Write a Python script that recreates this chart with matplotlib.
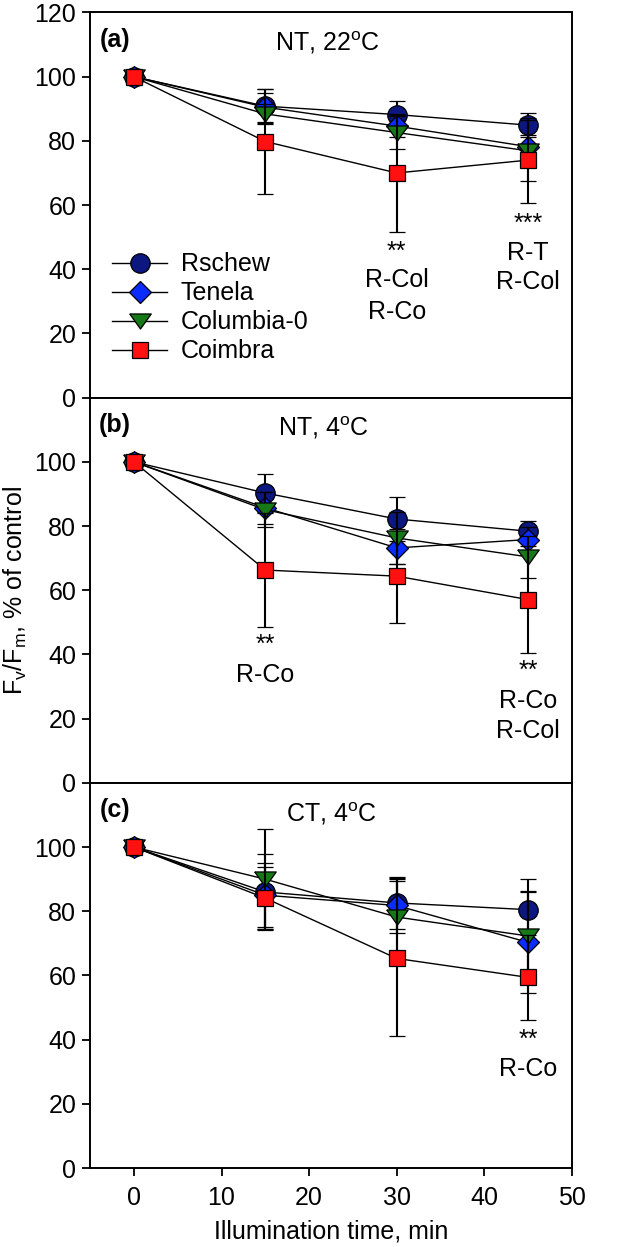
import matplotlib
matplotlib.use("Agg")
import matplotlib.pyplot as plt
import numpy as np

plt.rcParams['font.family'] = ['Liberation Sans', 'DejaVu Sans']
plt.rcParams['mathtext.fontset'] = 'custom'
plt.rcParams['mathtext.rm'] = 'Liberation Sans'
plt.rcParams['mathtext.it'] = 'Liberation Sans:italic'

time = [0, 15, 30, 45]
series_names = ["Rschew", "Tenela", "Columbia-0", "Coimbra"]

# Panel (a) NT, 22oC
a_rschew = [100, 90.8, 88.2, 84.9]
a_rschew_err = [0, 5.3, 4.2, 3.8]
a_tenela = [100, 90.5, 84.6, 78.2]
a_tenela_err = [0, 4.5, 3.5, 3.5]
a_columbia = [100, 88.4, 82.6, 76.9]
a_columbia_err = [0, 3.0, 5.2, 9.5]
a_coimbra = [100, 79.8, 70.0, 74.0]
a_coimbra_err = [0, 16.3, 18.3, 13.2]

# Panel (b) NT, 4oC
b_rschew = [100, 90.3, 82.2, 78.4]
b_rschew_err = [0, 5.8, 6.8, 3.1]
b_tenela = [100, 85.7, 73.2, 75.8]
b_tenela_err = [0, 5.0, 5.0, 4.0]
b_columbia = [100, 85.1, 76.3, 70.4]
b_columbia_err = [0, 5.5, 8.0, 6.5]
b_coimbra = [100, 66.3, 64.4, 57.1]
b_coimbra_err = [0, 17.7, 14.6, 16.6]

# Panel (c) CT, 4oC
c_rschew = [100, 86.0, 82.6, 80.5]
c_rschew_err = [0, 11.7, 8.0, 9.7]
c_tenela = [100, 85.0, 81.8, 70.3]
c_tenela_err = [0, 10.0, 8.5, 15.8]
c_columbia = [100, 90.0, 78.2, 72.3]
c_columbia_err = [0, 15.5, 12.0, 14.0]
c_coimbra = [100, 84.1, 65.3, 59.4]
c_coimbra_err = [0, 9.6, 24.1, 13.3]

panel_titles = ["NT, 22$^{\\mathrm{o}}$C", "NT, 4$^{\\mathrm{o}}$C", "CT, 4$^{\\mathrm{o}}$C"]
panel_letters = ["(a)", "(b)", "(c)"]

# significance annotations: (x, y, text)
a_notes = [(30, 45.3, "**"), (30, 36.6, "R-Col"), (30, 26.8, "R-Co"),
           (45, 54.2, "***"), (45, 45.2, "R-T"), (45, 36.1, "R-Col")]
b_notes = [(15, 43.0, "**"), (15, 33.7, "R-Co"),
           (45, 35.0, "**"), (45, 25.4, "R-Co"), (45, 16.1, "R-Col")]
c_notes = [(45, 40.0, "**"), (45, 30.9, "R-Co")]

colors = ['#0c1780', '#0a2cff', '#167816', '#ff1111']
tri = [(-1, 0.7), (1, 0.7), (0, -0.7), (-1, 0.7)]
markers = ['o', 'D', tri, 's']
msizes = [14.0, 11.5, 15.5, 12.0]

panels = [
    ([a_rschew, a_tenela, a_columbia, a_coimbra],
     [a_rschew_err, a_tenela_err, a_columbia_err, a_coimbra_err], a_notes),
    ([b_rschew, b_tenela, b_columbia, b_coimbra],
     [b_rschew_err, b_tenela_err, b_columbia_err, b_coimbra_err], b_notes),
    ([c_rschew, c_tenela, c_columbia, c_coimbra],
     [c_rschew_err, c_tenela_err, c_columbia_err, c_coimbra_err], c_notes),
]

fig, axes = plt.subplots(3, 1, figsize=(6.44, 12.47), dpi=100)
fig.subplots_adjust(left=0.14, right=0.888, top=0.990, bottom=0.0633, hspace=0)

FS = 18
for i, (ax, (vals, errs, notes)) in enumerate(zip(axes, panels)):
    handles = []
    for j in range(4):
        eb = ax.errorbar(time, vals[j], yerr=errs[j], color='black', lw=1.0,
                         elinewidth=1.5, capsize=6, capthick=1.5,
                         marker=markers[j], ms=msizes[j], mfc=colors[j],
                         mec='black', mew=0.9, label=series_names[j], zorder=3 + j)
        handles.append(eb[0])
    ax.set_xlim(-5, 50)
    ax.set_ylim(0, 120)
    if i == 0:
        ax.set_yticks([0, 20, 40, 60, 80, 100, 120])
    else:
        ax.set_yticks([0, 20, 40, 60, 80, 100])
    ax.set_xticks([0, 10, 20, 30, 40, 50])
    ax.tick_params(axis='both', direction='out', length=6, width=1.3,
                   labelsize=FS, top=False, right=False, pad=4)
    ax.tick_params(axis='x', pad=7)
    if i < 2:
        ax.tick_params(axis='x', labelbottom=False)
    for sp in ax.spines.values():
        sp.set_linewidth(1.4)
    ax.text(22.1 if i == 0 else (21.6 if i == 1 else 22.6), 110.5,
            panel_titles[i], ha='center', va='center', fontsize=FS)
    ax.text(-2.2, 111.5, panel_letters[i], ha='center', va='center',
            fontsize=FS, fontweight='bold')
    for (x, y, t) in notes:
        ax.text(x, y, t, ha='center', va='center', fontsize=FS)
    if i == 0:
        ax.legend(handles=handles, labels=series_names, loc='center left',
                  bbox_to_anchor=((112 - 90) / 482, 0.233), frameon=False,
                  fontsize=FS, handlelength=2.2, handletextpad=0.55,
                  labelspacing=0.2, borderpad=0, borderaxespad=0)

axes[1].set_ylabel("F$_\\mathrm{v}$/F$_\\mathrm{m}$, % of control", fontsize=FS, labelpad=4)
axes[2].set_xlabel("Illumination time, min", fontsize=FS, labelpad=7)

fig.savefig("out.png", dpi=100)
